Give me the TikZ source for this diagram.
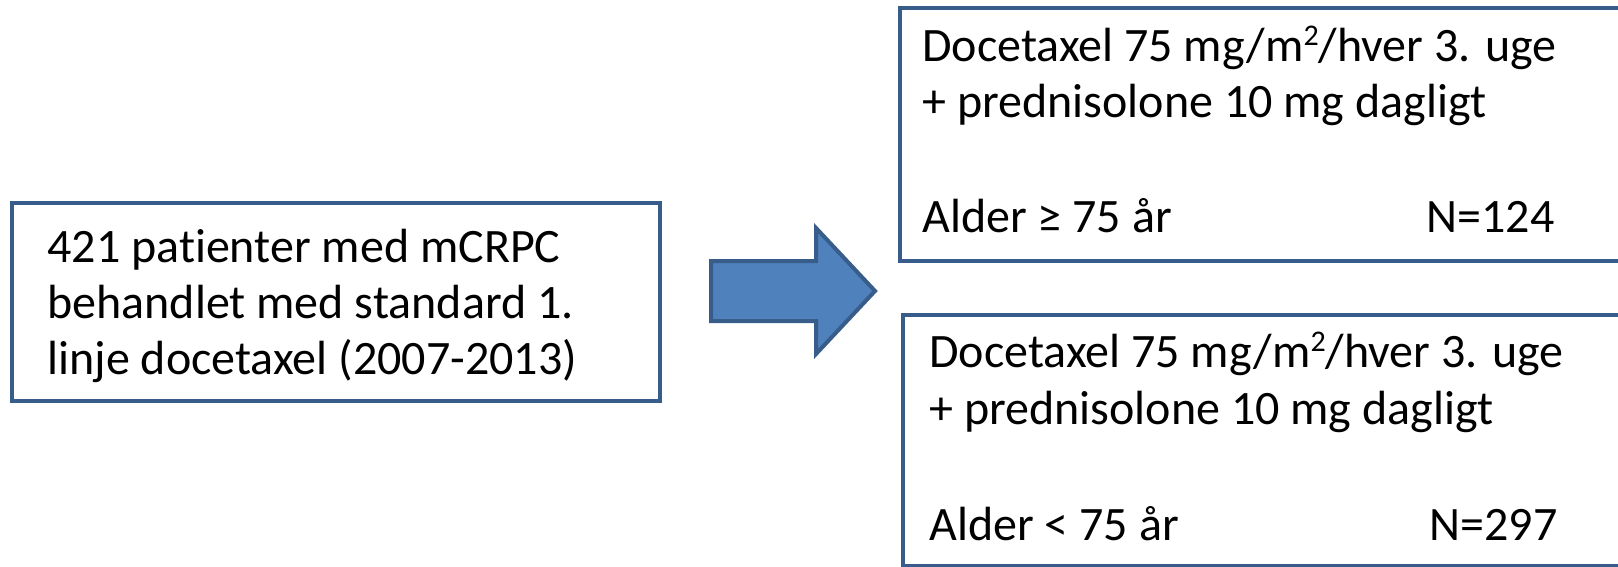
\documentclass[tikz,border=0pt]{standalone}
\usepackage{fontspec}
\setmainfont{Carlito}[Ligatures=NoCommon]
\definecolor{boxline}{HTML}{385D8A}
\definecolor{arrowfill}{HTML}{4F81BD}
\newcommand{\sqm}{{\fontsize{15}{15}\selectfont\raisebox{8pt}{2}}}
\tikzset{
	box/.style={draw=boxline, line width=2pt},
	txt/.style={anchor=base west, inner sep=0pt, font=\fontsize{24}{30}\selectfont},
	txtr/.style={txt, anchor=base east}
}

\begin{document}
\begin{tikzpicture}[x=0.5pt, y=-0.5pt]
			%%%%% FRAME %%%%%
			\useasboundingbox (0, 0) rectangle (1618, 567);
			\clip (0, 0) rectangle (1618, 567);
			
			%%%%% LEFT BOX %%%%%
			\draw[box] (12, 203) rectangle (660, 401);
			\node[txt] (pt1) at (47, 262) {421 patienter med mCRPC};
			\node[txt] (pt2) at (47, 318) {behandlet med standard 1.};
			\node[txt] (pt3) at (47, 374) {linje docetaxel (2007-2013)};
			
			%%%%% BLOCK ARROW %%%%%
			\draw[line width=2pt, draw=boxline, fill=arrowfill, line join=miter]
				(711, 261) -- (816, 261) -- (816, 228) -- (875, 291)
				-- (816, 354) -- (816, 321) -- (711, 321) -- cycle;
			
			%%%%% UPPER ARM %%%%%
			\draw[box] (900, 8) rectangle (1660, 261);
			\node[txt] (old1) at (922, 62) {Docetaxel 75 mg/m\sqm/hver 3. uge};
			\node[txt] (old2) at (922, 118) {+ prednisolone 10 mg dagligt};
			\node[txt] (old3) at (922, 233) {Alder ≥ 75 år};
			\node[txtr] (oldn) at (1555, 233) {N=124};
			
			%%%%% LOWER ARM %%%%%
			\draw[box] (903, 315) rectangle (1660, 566);
			\node[txt] (yng1) at (929, 367) {Docetaxel 75 mg/m\sqm/hver 3. uge};
			\node[txt] (yng2) at (929, 424) {+ prednisolone 10 mg dagligt};
			\node[txt] (yng3) at (929, 540) {Alder < 75 år};
			\node[txtr] (yngn) at (1558, 540) {N=297};
\end{tikzpicture}
\end{document}
